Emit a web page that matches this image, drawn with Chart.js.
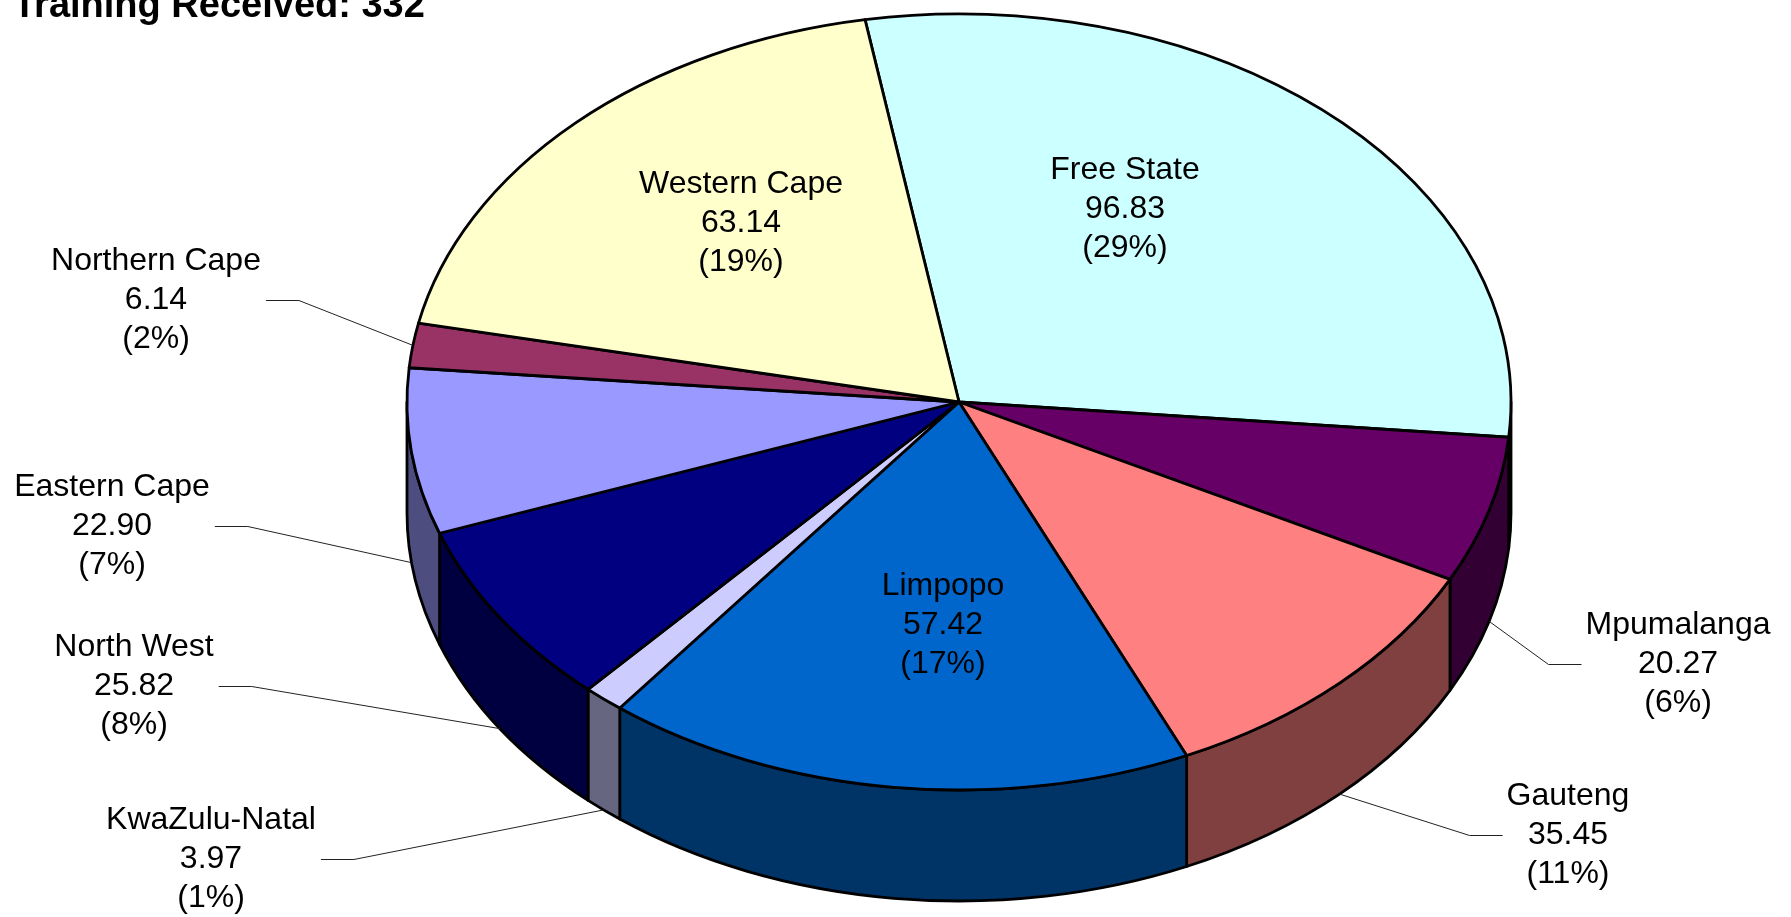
<!DOCTYPE html>
<html>
<head>
<meta charset="utf-8">
<title>Training Received</title>
<script src="https://cdn.jsdelivr.net/npm/chart.js@4.4.1/dist/chart.umd.min.js"></script>
<style>
body { margin: 0; background: #fff; }
#wrap { width: 1791px; height: 917px; }
</style>
</head>
<body>
<div id="wrap"><canvas id="pieCanvas"></canvas></div>
<script>
var provinces = ['Free State', 'Mpumalanga', 'Gauteng', 'Limpopo', 'KwaZulu-Natal', 'North West', 'Eastern Cape', 'Northern Cape', 'Western Cape'];
var training = [96.83, 20.27, 35.45, 57.42, 3.97, 25.82, 22.90, 6.14, 63.14];
var sliceColors = ['#CCFFFF', '#660066', '#FF8080', '#0066CC', '#CCCCFF', '#000080', '#9999FF', '#993366', '#FFFFCC'];

// label placement (centre of the middle text line) and leader side
var labelSpots = [
	[1125, 209, 'in'], [1678, 664, 'right'], [1568, 835, 'right'], [943, 625, 'in'],
	[211, 859, 'left'], [134, 686, 'left'], [112, 526, 'left'], [156, 300, 'left'], [741, 223, 'in']
];

var DEPTH = 111;
var FONT = '32px "Liberation Sans", Arial, sans-serif';
var total = training.reduce(function(a, b) { return a + b; }, 0);

function darker(hex) {
	var n = parseInt(hex.slice(1), 16);
	var r = (n >> 16) & 255, g = (n >> 8) & 255, b = n & 255;
	return 'rgb(' + Math.round(r / 2) + ',' + Math.round(g / 2) + ',' + Math.round(b / 2) + ')';
}

function geo(chart) {
	var ca = chart.chartArea;
	var rx = (ca.right - ca.left) / 2;
	var ry = (ca.bottom - ca.top - DEPTH) / 2;
	return { cx: (ca.left + ca.right) / 2, cy: ca.top + ry, rx: rx, ry: ry };
}

var pie3d = {
	id: 'pie3d',
	beforeDatasetsDraw: function(chart) {
		var ctx = chart.ctx;
		var g = geo(chart);
		var arcs = chart.getDatasetMeta(0).data;
		ctx.save();
		ctx.lineJoin = 'round';
		ctx.lineWidth = 2.8;
		ctx.strokeStyle = '#000';

		// outer walls, only the front half is visible
		arcs.forEach(function(arc, i) {
			for (var k = -1; k <= 1; k++) {
				var lo = Math.max(arc.startAngle, 2 * Math.PI * k);
				var hi = Math.min(arc.endAngle, 2 * Math.PI * k + Math.PI);
				if (hi <= lo) continue;
				ctx.beginPath();
				ctx.ellipse(g.cx, g.cy, g.rx, g.ry, 0, lo, hi, false);
				ctx.lineTo(g.cx + g.rx * Math.cos(hi), g.cy + DEPTH + g.ry * Math.sin(hi));
				ctx.ellipse(g.cx, g.cy + DEPTH, g.rx, g.ry, 0, hi, lo, true);
				ctx.closePath();
				ctx.fillStyle = darker(sliceColors[i]);
				ctx.fill();
				ctx.stroke();
			}
		});

		// top faces
		arcs.forEach(function(arc, i) {
			ctx.beginPath();
			ctx.moveTo(g.cx, g.cy);
			ctx.ellipse(g.cx, g.cy, g.rx, g.ry, 0, arc.startAngle, arc.endAngle, false);
			ctx.closePath();
			ctx.fillStyle = sliceColors[i];
			ctx.fill();
			ctx.stroke();
		});
		ctx.restore();
		return false;
	},
	afterDraw: function(chart) {
		var ctx = chart.ctx;
		var g = geo(chart);
		var arcs = chart.getDatasetMeta(0).data;
		ctx.save();

		ctx.fillStyle = '#000';
		ctx.font = 'bold 38px "Liberation Sans", Arial, sans-serif';
		ctx.textAlign = 'left';
		ctx.textBaseline = 'alphabetic';
		ctx.fillText('Training Received: ' + Math.round(total), 13, 17);

		ctx.font = FONT;
		ctx.textAlign = 'center';
		ctx.textBaseline = 'middle';
		arcs.forEach(function(arc, i) {
			var spot = labelSpots[i];
			var lines = [provinces[i], training[i].toFixed(2), '(' + Math.round(training[i] / total * 100) + '%)'];
			ctx.fillStyle = '#000';
			lines.forEach(function(t, j) {
				ctx.fillText(t, spot[0], spot[1] + (j - 1) * 39);
			});
			if (spot[2] === 'in') return;

			var w = Math.max.apply(null, lines.map(function(t) { return ctx.measureText(t).width; }));
			var mid = (arc.startAngle + arc.endAngle) / 2;
			var ax = g.cx + g.rx * Math.cos(mid);
			var ay = g.cy + g.ry * Math.sin(mid) + (Math.sin(mid) > 0 ? DEPTH : 0);
			var x0 = spot[2] === 'left' ? spot[0] + w / 2 + 5 : spot[0] - w / 2 - 4;
			var x1 = spot[2] === 'left' ? x0 + 33 : x0 - 33;
			ctx.beginPath();
			ctx.moveTo(x0, spot[1] + 0.5);
			ctx.lineTo(x1, spot[1] + 0.5);
			ctx.lineTo(ax, ay);
			ctx.lineWidth = 1;
			ctx.strokeStyle = '#222';
			ctx.stroke();
		});
		ctx.restore();
	}
};

var pieChart = new Chart(document.getElementById('pieCanvas'), {
	type: 'pie',
	data: {
		labels: provinces,
		datasets: [{
			label: 'Training Received',
			data: training,
			backgroundColor: sliceColors,
			borderColor: '#000',
			borderWidth: 2
		}]
	},
	options: {
		responsive: true,
		maintainAspectRatio: false,
		animation: false,
		events: [],
		rotation: -9.8,
		layout: { padding: { left: 407, right: 280, top: 14, bottom: 16 } },
		plugins: {
			legend: { display: false },
			tooltip: { enabled: false },
			title: { display: false }
		}
	},
	plugins: [pie3d]
});
</script>
</body>
</html>
